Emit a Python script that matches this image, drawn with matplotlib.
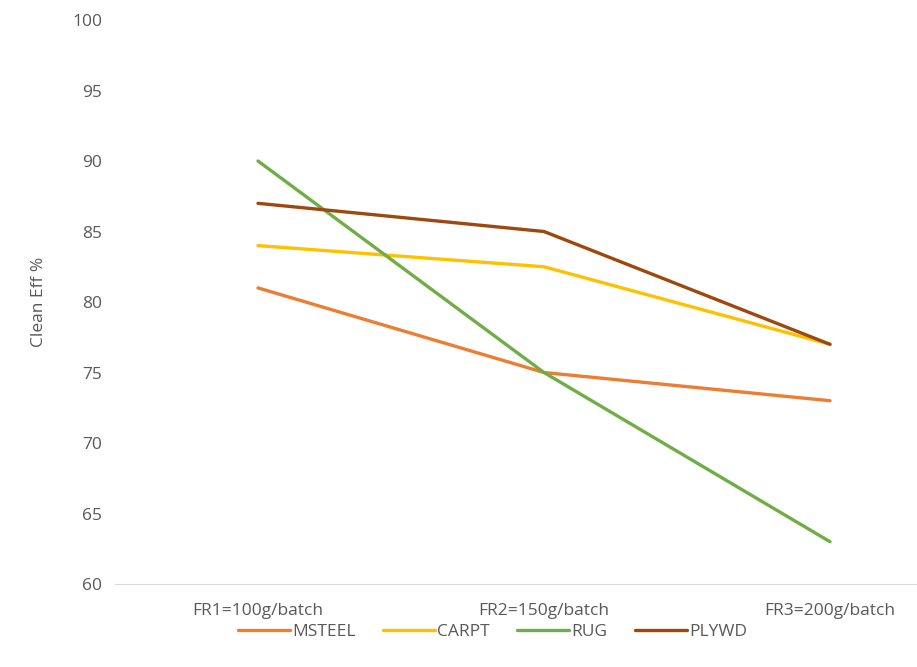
import matplotlib
matplotlib.use('Agg')
from matplotlib import pyplot as plt

categories = ['FR1=100g/batch', 'FR2=150g/batch', 'FR3=200g/batch']
msteel = [81, 75, 73]
carpt = [84, 82.5, 77]
rug = [90, 75, 63]
plywd = [87, 85, 77]

series = [('MSTEEL', msteel, '#ED7D31'),
          ('CARPT', carpt, '#FFC000'),
          ('RUG', rug, '#70AD47'),
          ('PLYWD', plywd, '#9E480E')]

plt.rcParams['font.family'] = ['Open Sans', 'DejaVu Sans']
fig = plt.figure(figsize=(9.17, 6.67), dpi=100)
ax = fig.add_axes([0.1254, 0.1244, 0.9357, 0.8456])

x = range(len(categories))
for name, vals, col in series:
    ax.plot(x, vals, color=col, lw=2.4, label=name, solid_capstyle='round')

ax.set_xlim(-0.5, 2.5)
ax.set_ylim(60, 100)
ax.set_yticks(range(60, 101, 5))
ax.set_xticks(list(x))
ax.set_xticklabels(categories)
ax.tick_params(length=0, colors='#595959', labelsize=12.5)
ax.tick_params(axis='y', pad=9)
ax.tick_params(axis='x', pad=14)
for s in ['top', 'right', 'left']:
    ax.spines[s].set_visible(False)
ax.spines['bottom'].set_color('#D9D9D9')
ax.set_ylabel('Clean Eff %', color='#595959', fontsize=12.5, labelpad=18)

fig.legend(loc='center', bbox_to_anchor=(0.537, 0.053), ncol=4, frameon=False,
           fontsize=12.5, labelcolor='#595959', handlelength=3.0,
           handletextpad=0.1, columnspacing=1.6)

fig.savefig('out.png', dpi=100)
